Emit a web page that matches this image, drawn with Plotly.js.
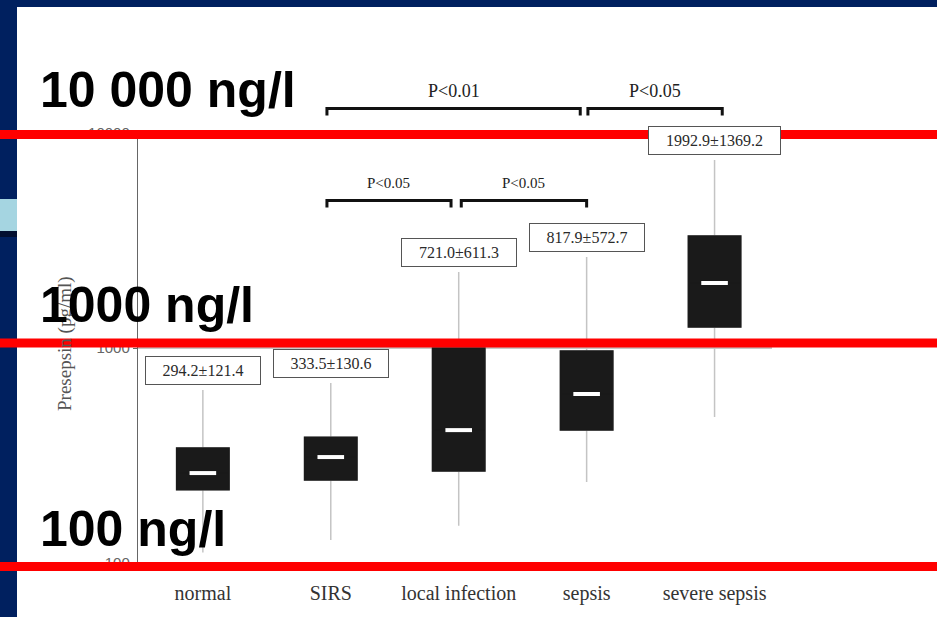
<!DOCTYPE html>
<html>
<head>
<meta charset="utf-8">
<script src="https://cdn.plot.ly/plotly-3.0.1.min.js"></script>
<style>
  html, body { margin: 0; padding: 0; background: #ffffff; }
  #chart { width: 937px; height: 617px; }
</style>
</head>
<body>
<div id="chart"></div>
<script>
// Presepsin by patient group (box: quartiles, whiskers: range)
const categories = ['normal', 'SIRS', 'local infection', 'sepsis', 'severe sepsis'];
const upperFence = [638, 687, 2257, 2650, 7490];
const q3Values   = [343, 385, 1000, 968, 3318];
const medians    = [262, 311, 415, 611, 2006];
const q1Values   = [219, 243, 268, 415, 1253];
const lowerFence = [112, 128, 149, 238, 478];
const means      = [294.2, 333.5, 721.0, 817.9, 1992.9];
const sds        = [121.4, 130.6, 611.3, 572.7, 1369.2];
const yTickVals  = [100, 1000, 10000];
const yTickText  = ['100', '1000', '10000'];
// significance brackets: group indices and p-value text
const bracketFrom  = [1, 3, 1, 2];
const bracketTo    = [3, 4, 2, 3];
const bracketText  = ['P<0.01', 'P<0.05', 'P<0.05', 'P<0.05'];
const bracketLevel = [0, 0, 1, 1];
// reference levels shown across the slide
const refLevels = ['10 000 ng/l', '1000 ng/l', '100 ng/l'];

// ---- geometry helpers (page pixels -> paper fractions) ----
const W = 937, H = 617;
const L = 138, R = 772, T = 133, B = 563;
const XR = [-0.507, 4.449];
const px = p => (p - L) / (R - L);
const py = p => (B - p) / (B - T);
const catX = i => (i - XR[0]) / (XR[1] - XR[0]);

const serif = 'Liberation Serif, Times New Roman, serif';
const boxFill = '#1a1a1a';
const whiskerGrey = '#c4c4c4';

const traces = [
  { // whiskers (grey) with the box body
    type: 'box', x: categories, q1: q1Values, median: medians, q3: q3Values,
    lowerfence: lowerFence, upperfence: upperFence,
    width: 0.41, whiskerwidth: 0, boxpoints: false,
    fillcolor: boxFill, line: { color: whiskerGrey, width: 1.5 },
    hoverinfo: 'skip', showlegend: false
  },
  { // solid box body over the whisker outline
    type: 'box', x: categories, q1: q1Values, median: medians, q3: q3Values,
    lowerfence: q1Values, upperfence: q3Values,
    width: 0.41, whiskerwidth: 0, boxpoints: false,
    fillcolor: boxFill, line: { color: boxFill, width: 1.5 },
    hoverinfo: 'skip', showlegend: false
  },
  { // white median ticks
    type: 'scatter', mode: 'markers', x: categories, y: medians,
    marker: { symbol: 'line-ew', size: 19, line: { color: '#ffffff', width: 4 } },
    hoverinfo: 'skip', showlegend: false
  }
];

const shapes = [];
const annotations = [];

// slide frame: navy top and left bands, accent block
const navy = '#00205f';
shapes.push({ type: 'rect', xref: 'paper', yref: 'paper', x0: px(0), x1: px(W), y0: py(0), y1: py(7),
  fillcolor: navy, line: { width: 0 }, layer: 'above' });
shapes.push({ type: 'rect', xref: 'paper', yref: 'paper', x0: px(0), x1: px(17), y0: py(0), y1: py(H),
  fillcolor: navy, line: { width: 0 }, layer: 'above' });
shapes.push({ type: 'rect', xref: 'paper', yref: 'paper', x0: px(0), x1: px(17), y0: py(199), y1: py(231),
  fillcolor: '#a5d5e1', line: { width: 0 }, layer: 'above' });
shapes.push({ type: 'rect', xref: 'paper', yref: 'paper', x0: px(0), x1: px(17), y0: py(231), y1: py(237),
  fillcolor: '#020f30', line: { width: 0 }, layer: 'above' });

// significance brackets
const bracketTopY = [108.5, 200.5];
const bracketTickY = [115.5, 207.5];
const bracketTextY = [91, 183];
const bracketFont = [18, 15];
const bracketPad = [[-0.03, -0.05], [0.01, 0.06], [-0.03, -0.06], [0.02, 0.0]];
for (let k = 0; k < bracketFrom.length; k++) {
  const lv = bracketLevel[k];
  const x0 = catX(bracketFrom[k] + bracketPad[k][0]);
  const x1 = catX(bracketTo[k] + bracketPad[k][1]);
  const yt = py(bracketTopY[lv]), yb = py(bracketTickY[lv]);
  shapes.push({ type: 'path', xref: 'paper', yref: 'paper',
    path: `M ${x0} ${yb} L ${x0} ${yt} L ${x1} ${yt} L ${x1} ${yb}`,
    line: { color: '#111111', width: 3 }, layer: 'above' });
  annotations.push({ xref: 'paper', yref: 'paper', x: (x0 + x1) / 2, y: py(bracketTextY[lv]),
    xanchor: 'center', yanchor: 'middle', showarrow: false, text: bracketText[k],
    font: { family: serif, size: bracketFont[lv], color: '#222222' } });
}

// mean ± SD labels above each whisker
for (let i = 0; i < categories.length; i++) {
  const txt = means[i].toFixed(1) + '±' + sds[i].toFixed(1);
  annotations.push({ xref: 'x', yref: 'y', x: categories[i], y: Math.log10(upperFence[i]),
    xanchor: 'center', yanchor: 'bottom', yshift: 5, showarrow: false, text: txt,
    font: { family: serif, size: 16, color: '#2a2a2a' },
    bgcolor: '#ffffff', bordercolor: '#555555', borderwidth: 1, borderpad: 3,
    width: 8.5 * txt.length + 14.5, height: 21 });
}

// y axis title
annotations.push({ xref: 'paper', yref: 'paper', x: px(65), y: py(344), xanchor: 'center', yanchor: 'middle',
  textangle: -90, showarrow: false, text: 'Presepsin (pg/ml)',
  font: { family: serif, size: 19, color: '#555555' } });

// red reference lines with big labels
const refLineY = [134.5, 343, 566.5];
const refTextY = [89.5, 305, 529];
for (let k = 0; k < refLevels.length; k++) {
  shapes.push({ type: 'line', xref: 'paper', yref: 'paper', x0: px(0), x1: px(W),
    y0: py(refLineY[k]), y1: py(refLineY[k]), line: { color: '#ff0000', width: 9 }, layer: 'above' });
  annotations.push({ xref: 'paper', yref: 'paper', x: px(38), y: py(refTextY[k]),
    xanchor: 'left', yanchor: 'middle', showarrow: false, text: refLevels[k],
    font: { family: 'Liberation Sans, Arial, sans-serif', size: 50, color: '#000000', weight: 700 } });
}

const layout = {
  width: W, height: H,
  margin: { l: L, r: W - R, t: T, b: H - B, pad: 0 },
  paper_bgcolor: '#ffffff', plot_bgcolor: '#ffffff',
  showlegend: false, boxmode: 'overlay',
  xaxis: {
    type: 'category', range: XR, fixedrange: true,
    showline: false, showgrid: false, zeroline: false,
    ticks: 'outside', ticklen: 12, tickcolor: 'rgba(0,0,0,0)',
    tickfont: { family: serif, size: 20, color: '#333333' }
  },
  yaxis: {
    type: 'log', range: [2, 4], fixedrange: true,
    tickvals: yTickVals, ticktext: yTickText,
    showline: true, linecolor: '#666666', linewidth: 1.2,
    ticks: 'outside', ticklen: 4, tickcolor: '#666666',
    showgrid: true, gridcolor: '#c8c8c8', gridwidth: 1.5, zeroline: false,
    tickfont: { family: 'Liberation Sans, Arial, sans-serif', size: 15, color: '#666666' }
  },
  shapes: shapes,
  annotations: annotations
};

Plotly.newPlot('chart', traces, layout, { displayModeBar: false, staticPlot: true });
</script>
</body>
</html>
